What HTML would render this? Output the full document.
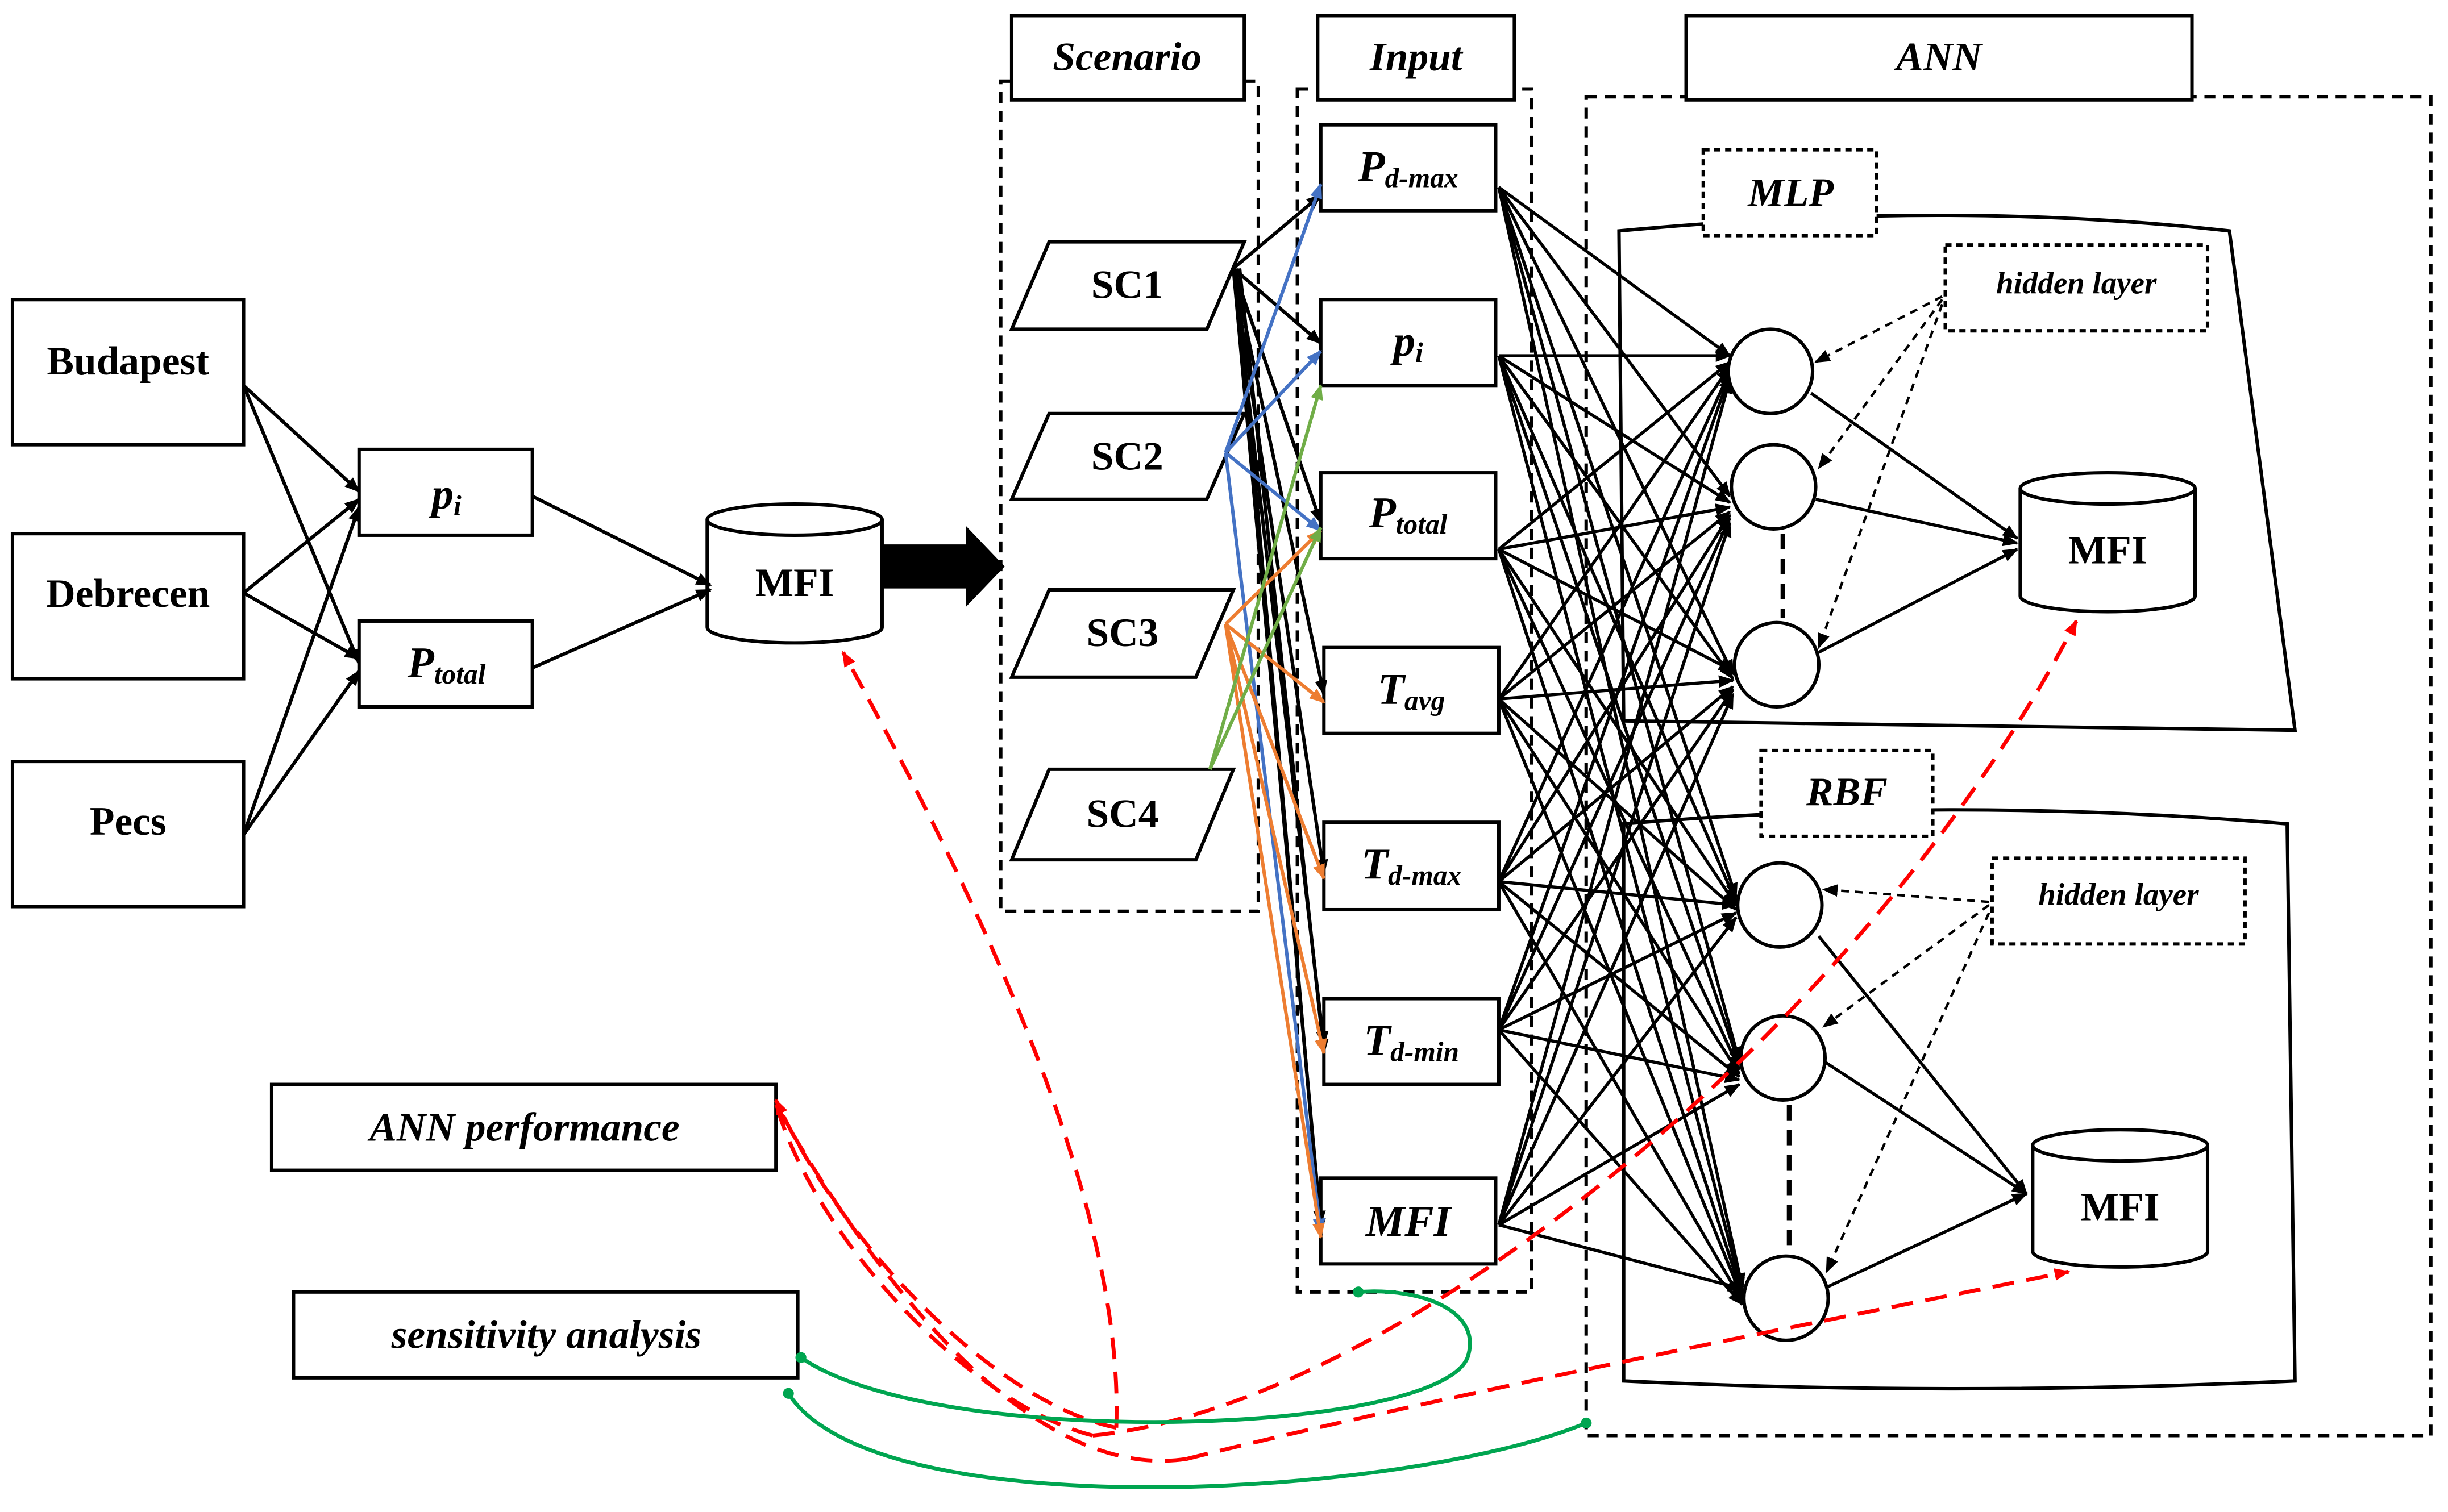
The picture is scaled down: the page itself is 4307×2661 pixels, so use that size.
<!DOCTYPE html>
<html><head><meta charset="utf-8"><style>
html,body{margin:0;padding:0;background:#fff;}
svg{display:block;}
text{font-family:"Liberation Serif",serif;font-weight:bold;}
</style></head><body>
<svg width="4307" height="2661" viewBox="0 0 1568 969" preserveAspectRatio="none" xmlns="http://www.w3.org/2000/svg">
<defs>
<marker id="a" markerWidth="10" markerHeight="8" refX="9" refY="4" orient="auto" markerUnits="userSpaceOnUse"><path d="M0,0 L10,4 L0,8 z" fill="#000"/></marker>
<marker id="ab" markerWidth="10" markerHeight="8" refX="9" refY="4" orient="auto" markerUnits="userSpaceOnUse"><path d="M0,0 L10,4 L0,8 z" fill="#4472c4"/></marker>
<marker id="ao" markerWidth="10" markerHeight="8" refX="9" refY="4" orient="auto" markerUnits="userSpaceOnUse"><path d="M0,0 L10,4 L0,8 z" fill="#ed7d31"/></marker>
<marker id="ag" markerWidth="10" markerHeight="8" refX="9" refY="4" orient="auto" markerUnits="userSpaceOnUse"><path d="M0,0 L10,4 L0,8 z" fill="#70ad47"/></marker>
<marker id="ar" markerWidth="10" markerHeight="8" refX="9" refY="4" orient="auto" markerUnits="userSpaceOnUse"><path d="M0,0 L10,4 L0,8 z" fill="#f00"/></marker>
<marker id="agr" markerWidth="8" markerHeight="8" refX="4" refY="4" orient="auto" markerUnits="userSpaceOnUse"><circle cx="4" cy="4" r="3.5" fill="#00a550"/></marker>
</defs>
<g fill="none" stroke="#000" stroke-width="2.2">
<rect x="8" y="192" width="148" height="93"/>
<rect x="8" y="342" width="148" height="93"/>
<rect x="8" y="488" width="148" height="93"/>
<rect x="230" y="288" width="111" height="55"/>
<rect x="230" y="398" width="111" height="55"/>
<g marker-end="url(#a)">
<line x1="156" y1="247" x2="230" y2="315"/><line x1="156" y1="247" x2="230" y2="425"/>
<line x1="156" y1="380" x2="230" y2="320"/><line x1="156" y1="380" x2="230" y2="422"/>
<line x1="156" y1="535" x2="230" y2="325"/><line x1="156" y1="535" x2="230" y2="430"/>
<line x1="341" y1="318" x2="455" y2="375"/><line x1="341" y1="428" x2="455" y2="378"/>
</g>
<path d="M453,333 L453,402 A56,10 0 0 0 565,402 L565,333"/><ellipse cx="509" cy="333" rx="56" ry="10"/>
<polygon points="566,350 620,350 620,340 642,363 620,386 620,376 566,376" fill="#000"/>
<rect x="641" y="52" width="165" height="532" stroke-dasharray="7,5"/>
<rect x="648" y="10" width="149" height="54" fill="#fff"/>
<polygon points="672,155 797,155 773,211 648,211"/>
<polygon points="672,265 797,265 773,320 648,320"/>
<polygon points="672,378 790,378 766,434 648,434"/>
<polygon points="672,493 790,493 766,551 648,551"/>
<rect x="831" y="57" width="150" height="771" stroke-dasharray="7,5"/>
<rect x="844" y="10" width="126" height="54" fill="#fff"/>
<rect x="846" y="80" width="112" height="55"/>
<rect x="846" y="192" width="112" height="55"/>
<rect x="846" y="303" width="112" height="55"/>
<rect x="848" y="415" width="112" height="55"/>
<rect x="848" y="527" width="112" height="56"/>
<rect x="848" y="640" width="112" height="55"/>
<rect x="846" y="755" width="112" height="55"/>
<g marker-end="url(#a)">
<line x1="790" y1="172" x2="846" y2="125"/><line x1="790" y1="172" x2="846" y2="220"/>
<line x1="790" y1="172" x2="846" y2="335"/><line x1="790" y1="172" x2="848" y2="445"/>
<line x1="790" y1="172" x2="848" y2="560"/><line x1="790" y1="172" x2="848" y2="670"/>
<line x1="790" y1="172" x2="846" y2="785"/>
<line x1="792" y1="172" x2="846" y2="790"/><line x1="794" y1="172" x2="848" y2="675"/>
</g>
</g>
<g fill="none" stroke-width="2.2">
<g stroke="#4472c4" marker-end="url(#ab)">
<line x1="785" y1="290" x2="846" y2="118"/><line x1="785" y1="290" x2="846" y2="225"/>
<line x1="785" y1="290" x2="846" y2="340"/><line x1="785" y1="290" x2="846" y2="790"/>
</g>
<g stroke="#ed7d31" marker-end="url(#ao)">
<line x1="785" y1="400" x2="846" y2="340"/><line x1="785" y1="400" x2="848" y2="450"/>
<line x1="785" y1="400" x2="848" y2="563"/><line x1="785" y1="400" x2="848" y2="675"/>
<line x1="785" y1="400" x2="846" y2="793"/>
</g>
<g stroke="#70ad47" marker-end="url(#ag)">
<line x1="775" y1="493" x2="846" y2="247"/><line x1="775" y1="493" x2="846" y2="338"/>
</g>
</g>
<g fill="none" stroke="#000" stroke-width="2.2">
<rect x="1016" y="62" width="541" height="858" stroke-dasharray="7,5"/>
<rect x="1080" y="10" width="324" height="54" fill="#fff"/>
<path d="M1037,148 Q1250,128 1428,148 L1470,468 L1040,462 Z"/>
<rect x="1091" y="96" width="111" height="55" fill="#fff" stroke-dasharray="4,3"/>
<rect x="1246" y="157" width="168" height="55" stroke-dasharray="4,3"/>
<path d="M1040,528 Q1250,510 1465,528 L1470,885 Q1250,895 1040,885 Z"/>
<rect x="1128" y="481" width="110" height="55" fill="#fff" stroke-dasharray="4,3"/>
<rect x="1276" y="550" width="162" height="55" stroke-dasharray="4,3"/>
<g marker-end="url(#a)" stroke-width="2">
<line x1="960" y1="120" x2="1108" y2="228"/><line x1="960" y1="120" x2="1108" y2="318"/><line x1="960" y1="120" x2="1110" y2="432"/><line x1="960" y1="120" x2="1112" y2="575"/><line x1="960" y1="120" x2="1114" y2="680"/><line x1="960" y1="120" x2="1116" y2="825"/>
<line x1="960" y1="228" x2="1108" y2="228"/><line x1="960" y1="228" x2="1108" y2="322"/><line x1="960" y1="228" x2="1110" y2="435"/><line x1="960" y1="228" x2="1112" y2="578"/><line x1="960" y1="228" x2="1114" y2="682"/><line x1="960" y1="228" x2="1116" y2="828"/>
<line x1="960" y1="352" x2="1108" y2="232"/><line x1="960" y1="352" x2="1108" y2="325"/><line x1="960" y1="352" x2="1110" y2="430"/><line x1="960" y1="352" x2="1112" y2="580"/><line x1="960" y1="352" x2="1114" y2="685"/><line x1="960" y1="352" x2="1116" y2="830"/>
<line x1="960" y1="448" x2="1108" y2="235"/><line x1="960" y1="448" x2="1108" y2="328"/><line x1="960" y1="448" x2="1110" y2="436"/><line x1="960" y1="448" x2="1112" y2="583"/><line x1="960" y1="448" x2="1114" y2="688"/><line x1="960" y1="448" x2="1116" y2="832"/>
<line x1="960" y1="565" x2="1108" y2="238"/><line x1="960" y1="565" x2="1108" y2="330"/><line x1="960" y1="565" x2="1110" y2="440"/><line x1="960" y1="565" x2="1112" y2="580"/><line x1="960" y1="565" x2="1114" y2="690"/><line x1="960" y1="565" x2="1116" y2="834"/>
<line x1="960" y1="660" x2="1108" y2="240"/><line x1="960" y1="660" x2="1108" y2="332"/><line x1="960" y1="660" x2="1110" y2="442"/><line x1="960" y1="660" x2="1112" y2="585"/><line x1="960" y1="660" x2="1114" y2="692"/><line x1="960" y1="660" x2="1116" y2="836"/>
<line x1="960" y1="785" x2="1108" y2="243"/><line x1="960" y1="785" x2="1108" y2="335"/><line x1="960" y1="785" x2="1110" y2="445"/><line x1="960" y1="785" x2="1112" y2="588"/><line x1="960" y1="785" x2="1114" y2="695"/><line x1="960" y1="785" x2="1116" y2="826"/>
<line x1="1160" y1="252" x2="1292" y2="345"/><line x1="1163" y1="320" x2="1292" y2="348"/><line x1="1165" y1="418" x2="1292" y2="352"/>
<line x1="1165" y1="600" x2="1298" y2="765"/><line x1="1168" y1="680" x2="1298" y2="765"/><line x1="1170" y1="825" x2="1298" y2="765"/>
</g>
<g fill="#fff">
<circle cx="1134" cy="238" r="27"/><circle cx="1136" cy="312" r="27"/><circle cx="1138" cy="426" r="27"/>
<circle cx="1140" cy="580" r="27"/><circle cx="1142" cy="678" r="27"/><circle cx="1144" cy="832" r="27"/>
</g>
<line x1="1142" y1="342" x2="1142" y2="396" stroke-width="3" stroke-dasharray="10,6"/>
<line x1="1146" y1="708" x2="1146" y2="802" stroke-width="3" stroke-dasharray="10,6"/>
<g stroke-width="1.6" stroke-dasharray="5,4" marker-end="url(#a)">
<line x1="1244" y1="190" x2="1163" y2="232"/><line x1="1244" y1="192" x2="1165" y2="300"/><line x1="1244" y1="195" x2="1165" y2="415"/>
<line x1="1274" y1="578" x2="1168" y2="570"/><line x1="1274" y1="580" x2="1168" y2="658"/><line x1="1274" y1="585" x2="1170" y2="815"/>
</g>
<path d="M1294,313 L1294,382 A56,10 0 0 0 1406,382 L1406,313" fill="#fff"/><ellipse cx="1350" cy="313" rx="56" ry="10" fill="#fff"/>
<path d="M1302,734 L1302,802 A56,10 0 0 0 1414,802 L1414,734" fill="#fff"/><ellipse cx="1358" cy="734" rx="56" ry="10" fill="#fff"/>
<rect x="174" y="695" width="323" height="55"/>
<rect x="188" y="828" width="323" height="55"/>
</g>
<g fill="none" stroke="#f00" stroke-width="2.5" stroke-dasharray="14,8">
<path d="M715,915 C720,780 640,600 540,418" marker-end="url(#ar)"/>
<path d="M715,915 C640,900 540,800 497,705" marker-end="url(#ar)"/>
<path d="M700,920 C620,900 520,790 497,707"/>
<path d="M760,935 C660,950 560,820 497,708"/>
<path d="M700,920 C900,900 1200,650 1330,398" marker-end="url(#ar)"/>
<path d="M760,935 C900,900 1100,860 1325,815" marker-end="url(#ar)"/>
</g>
<g fill="none" stroke="#00a550" stroke-width="2.5">
<path d="M513,870 C600,930 920,920 940,870 C950,840 910,825 870,828" marker-end="url(#agr)" marker-start="url(#agr)"/>
<path d="M505,893 C560,980 900,960 1016,912" marker-end="url(#agr)" marker-start="url(#agr)"/>
</g>
<g font-size="26" text-anchor="middle">
<text x="82" y="240">Budapest</text>
<text x="82" y="389">Debrecen</text>
<text x="82" y="535">Pecs</text>
<text x="509" y="382">MFI</text>
<text x="722" y="191">SC1</text>
<text x="722" y="301">SC2</text>
<text x="719" y="414">SC3</text>
<text x="719" y="530">SC4</text>
<text x="1350" y="361">MFI</text>
<text x="1358" y="782">MFI</text>
</g>
<g font-style="italic" text-anchor="middle">
<text x="722" y="45" font-size="26">Scenario</text>
<text x="907" y="45" font-size="26">Input</text>
<text x="1242" y="45" font-size="26">ANN</text>
<text x="1147" y="132" font-size="26">MLP</text>
<text x="1183" y="516" font-size="26">RBF</text>
<text x="1330" y="188" font-size="20">hidden layer</text>
<text x="1357" y="580" font-size="20">hidden layer</text>
<text x="336" y="731" font-size="26">ANN performance</text>
<text x="350" y="864" font-size="26">sensitivity analysis</text>
<text x="286" y="326" font-size="28">p<tspan font-size="18" dy="4">i</tspan></text>
<text x="286" y="434" font-size="28">P<tspan font-size="18" dy="4">total</tspan></text>
<text x="902" y="116" font-size="28">P<tspan font-size="18" dy="4">d-max</tspan></text>
<text x="902" y="228" font-size="28">p<tspan font-size="18" dy="4">i</tspan></text>
<text x="902" y="338" font-size="28">P<tspan font-size="18" dy="4">total</tspan></text>
<text x="904" y="451" font-size="28">T<tspan font-size="18" dy="4">avg</tspan></text>
<text x="904" y="563" font-size="28">T<tspan font-size="18" dy="4">d-max</tspan></text>
<text x="904" y="676" font-size="28">T<tspan font-size="18" dy="4">d-min</tspan></text>
<text x="902" y="792" font-size="28">MFI</text>
</g>
</svg>
</body></html>
